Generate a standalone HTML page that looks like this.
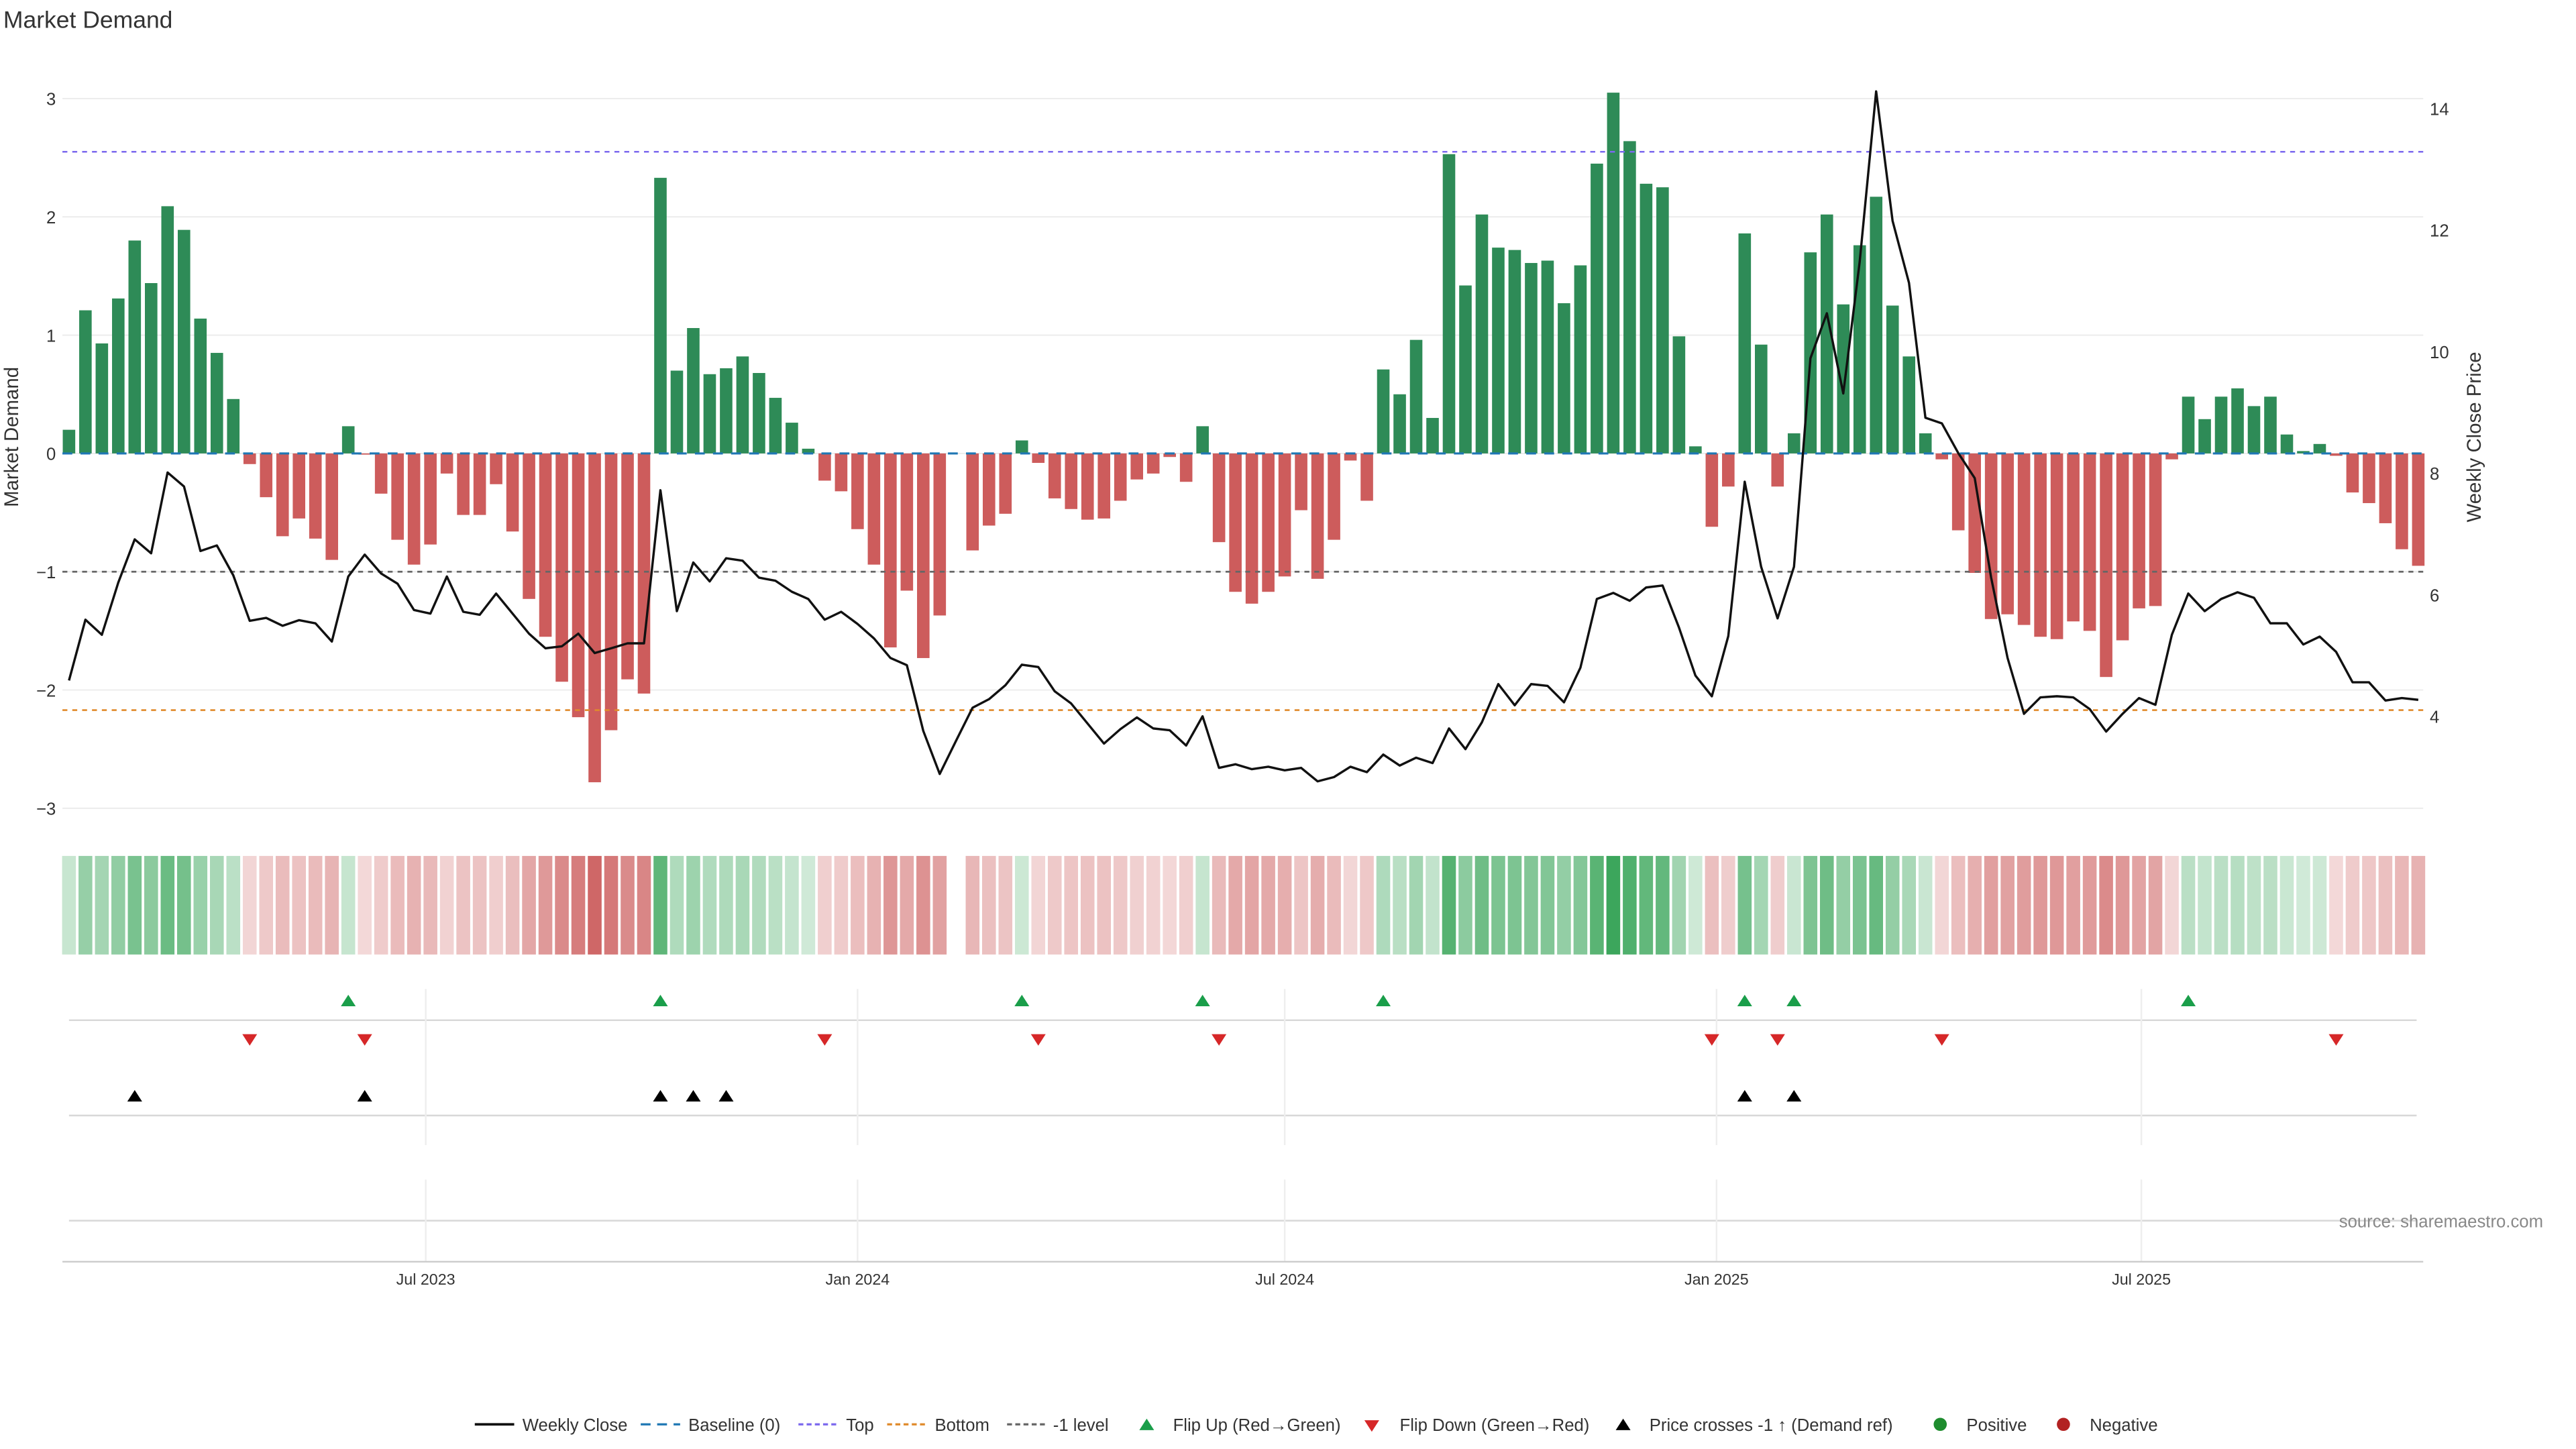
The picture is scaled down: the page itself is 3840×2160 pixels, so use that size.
<!DOCTYPE html>
<html><head><meta charset="utf-8"><style>
html,body{margin:0;padding:0;background:#fff;}
svg{display:block;font-family:"Liberation Sans","DejaVu Sans",sans-serif;}
</style></head><body>
<svg id="chart" width="3840" height="2160" viewBox="0 0 1568 882" preserveAspectRatio="xMinYMin meet" xmlns="http://www.w3.org/2000/svg">
<text x="2" y="17" font-size="14.5" fill="#333">Market Demand</text>
<g id="grid"></g><g id="bars"></g><g id="levels"></g><g id="line"></g><g id="heat"></g><g id="events"></g><g id="axes"></g>
<text transform="translate(11,266) rotate(-90)" text-anchor="middle" font-size="12" fill="#333">Market Demand</text>
<text transform="translate(1510,266) rotate(-90)" text-anchor="middle" font-size="12" fill="#333">Weekly Close Price</text>
<text x="1548" y="747" text-anchor="end" font-size="10.5" fill="#888">source: sharemaestro.com</text>
<g id="legend"></g>
</svg>
<script>
const demand = [0.20,1.21,0.93,1.31,1.80,1.44,2.09,1.89,1.14,0.85,0.46,-0.09,-0.37,-0.70,-0.55,-0.72,-0.90,0.23,-0.01,-0.34,
-0.73,-0.94,-0.77,-0.17,-0.52,-0.52,-0.26,-0.66,-1.23,-1.55,-1.93,-2.23,-2.78,-2.34,-1.91,-2.03,2.33,0.70,1.06,0.67,
0.72,0.82,0.68,0.47,0.26,0.04,-0.23,-0.32,-0.64,-0.94,-1.64,-1.16,-1.73,-1.37,null,-0.82,-0.61,-0.51,0.11,-0.08,
-0.38,-0.47,-0.56,-0.55,-0.40,-0.22,-0.17,-0.03,-0.24,0.23,-0.75,-1.17,-1.27,-1.17,-1.04,-0.48,-1.06,-0.73,-0.06,-0.40,
0.71,0.50,0.96,0.30,2.53,1.42,2.02,1.74,1.72,1.61,1.63,1.27,1.59,2.45,3.05,2.64,2.28,2.25,0.99,0.06,
-0.62,-0.28,1.86,0.92,-0.28,0.17,1.70,2.02,1.26,1.76,2.17,1.25,0.82,0.17,-0.05,-0.65,-1.01,-1.40,-1.36,-1.45,
-1.55,-1.57,-1.42,-1.50,-1.89,-1.58,-1.31,-1.29,-0.05,0.48,0.29,0.48,0.55,0.40,0.48,0.16,0.02,0.08,-0.02,-0.33,
-0.42,-0.59,-0.81,-0.95];
const closePrice = [4.59,5.59,5.34,6.20,6.91,6.68,8.01,7.78,6.72,6.81,6.32,5.57,5.62,5.49,5.58,5.53,5.23,6.30,6.66,6.35,
6.18,5.75,5.69,6.30,5.72,5.67,6.02,5.69,5.36,5.12,5.15,5.36,5.04,5.12,5.20,5.20,7.72,5.73,6.53,6.22,
6.60,6.56,6.28,6.23,6.05,5.93,5.59,5.72,5.52,5.28,4.96,4.84,3.76,3.05,3.60,4.14,4.28,4.51,4.85,4.81,
4.41,4.21,3.88,3.55,3.79,3.98,3.80,3.77,3.52,4.00,3.15,3.21,3.13,3.17,3.11,3.15,2.93,3.00,3.17,3.08,
3.37,3.19,3.32,3.23,3.80,3.46,3.90,4.53,4.18,4.53,4.50,4.23,4.80,5.93,6.03,5.90,6.12,6.15,5.46,4.67,
4.33,5.32,7.86,6.46,5.61,6.46,9.89,10.63,9.31,11.48,14.28,12.15,11.13,8.91,8.82,8.33,7.92,6.28,4.96,4.04,
4.31,4.33,4.31,4.12,3.75,4.04,4.30,4.19,5.34,6.02,5.73,5.93,6.04,5.95,5.53,5.53,5.18,5.31,5.06,4.56,
4.56,4.26,4.30,4.27];
const leftTicks = [3,2,1,0,-1,-2,-3];
const rightTicks = [14,12,10,8,6,4];
const xTickLabels = ["Jul 2023","Jan 2024","Jul 2024","Jan 2025","Jul 2025"];
const xTickDates = ["2023-07-01","2024-01-01","2024-07-01","2025-01-01","2025-07-01"];
const startDate = "2023-01-30";
const topLevel = 2.55, bottomLevel = -2.17, negLevel = -1;

const NS="http://www.w3.org/2000/svg";
function mk(tag, attrs, parent, txt){const e=document.createElementNS(NS,tag);for(const k in attrs)e.setAttribute(k,attrs[k]);if(txt!==undefined)e.textContent=txt;parent.appendChild(e);return e;}
const X0=42, DX=10.0, XL=38, XR=1475;
const xIdx = i => X0 + i*DX;
const yL = v => 276 - v*72;
const yR = p => 66 + (14-p)*37;
const pFromY = y => 14 - (y-66)/37;
const dateIdx = d => (new Date(d) - new Date(startDate))/86400000/7;
const G=id=>document.getElementById(id);

leftTicks.forEach((t,k)=>{
  const l=mk('line',{x1:XL,x2:XR,y1:yL(t),y2:yL(t),stroke:'#ececec','stroke-width':0.8},G('grid'));
  
  
  const lab=mk('text',{x:34,y:yL(t)+4,'text-anchor':'end','font-size':10.5,fill:'#333'},G('axes'),t<0?'\u2212'+Math.abs(t):String(t));
  
  
});
rightTicks.forEach(t=>{
  const lab=mk('text',{x:1479,y:yR(t)+4,'font-size':10.5,fill:'#333'},G('axes'),String(t));
  
  
});
demand.forEach((v,i)=>{
  if(v===null) return;
  const y=Math.min(yL(v),yL(0)), h=Math.abs(yL(v)-yL(0));
  const r=mk('rect',{x:xIdx(i)-3.8,y:y,width:7.6,height:Math.max(h,0.3),fill:v>=0?'#2e8b57':'#cd5c5c'},G('bars'));
  
  
});
function level(v,color,dash,name,w){
  const l=mk('line',{x1:XL,x2:XR,y1:yL(v),y2:yL(v),stroke:color,'stroke-width':w||1,'stroke-dasharray':dash},G('levels'));
  
  
}
level(0,'#1f77b4','6 5','baseline-line',1.3);
level(topLevel,'#7b68ee','3 3','top-level-line');
level(bottomLevel,'#e08a2b','3 3','bottom-level-line',1.1);
level(negLevel,'#666','3 3','neg1-level-line',1.1);
const pts=closePrice.map((p,i)=>xIdx(i).toFixed(1)+','+yR(p).toFixed(1)).join(' ');
const pl=mk('polyline',{points:pts,fill:'none',stroke:'#111','stroke-width':1.4,'stroke-linejoin':'round'},G('line'));


demand.forEach((v,i)=>{
  if(v===null) return;
  const a=Math.min(1,0.22+0.7*Math.abs(v)/3);
  const c=v>=0?[46,160,80]:[200,80,80];
  const mix=c.map(ch=>Math.round(255-(255-ch)*a));
  const r=mk('rect',{x:xIdx(i)-4.2,y:521,width:8.4,height:60,fill:`rgb(${mix.join(',')})`},G('heat'));
  
  
});
[621,679,743].forEach(y=>{
  const l=mk('line',{x1:42,x2:1471,y1:y,y2:y,stroke:'#d8d8d8','stroke-width':1},G('events'));
  
  
});
xTickDates.forEach((d,k)=>{
  const x=xIdx(dateIdx(d));
  const l=mk('line',{x1:x,x2:x,y1:602,y2:697,stroke:'#eeeeee','stroke-width':1},G('events'));
  
  
  const l2=mk('line',{x1:x,x2:x,y1:718,y2:768,stroke:'#eeeeee','stroke-width':1},G('events'));
  
  
  const lab=mk('text',{x:x,y:782,'text-anchor':'middle','font-size':9.5,fill:'#333'},G('axes'),xTickLabels[k]);
  
  
});
const ax=mk('line',{x1:38,x2:1475,y1:768,y2:768,stroke:'#ccc','stroke-width':1},G('axes'));


function tri(x,y,up,color,name,parent){
  const p=up?`${x-4.5},${y+3.5} ${x+4.5},${y+3.5} ${x},${y-3.5}`:`${x-4.5},${y-3.5} ${x+4.5},${y-3.5} ${x},${y+3.5}`;
  const t=mk('polygon',{points:p,fill:color},parent);
  
  
}
const thr=pFromY(yL(negLevel));
let prev=null;
demand.forEach((v,i)=>{
  if(v===null) return;
  if(prev!==null){
    if(prev<0&&v>=0) tri(xIdx(i),609,true,'#1a9e4a','flip-up-marker',G('events'));
    if(prev>=0&&v<0) tri(xIdx(i),633,false,'#d62728','flip-down-marker',G('events'));
  }
  prev=v;
});
closePrice.forEach((p,i)=>{
  if(i>0&&closePrice[i-1]<thr&&p>=thr) tri(xIdx(i),667,true,'#000','price-cross-marker',G('events'));
});
const L=G('legend');
function ltext(x,s,name){const t=mk('text',{x:x,y:871,'font-size':10.5,fill:'#333'},L,s);}
function lline(x1,color,dash,name,w){const l=mk('line',{x1:x1,x2:x1+24,y1:867,y2:867,stroke:color,'stroke-width':w||1.3,'stroke-dasharray':dash||'none'},L);}
lline(289,'#111',null,'legend-weekly-close-swatch',1.5); ltext(318,'Weekly Close','legend-weekly-close');
lline(390,'#1f77b4','6 4','legend-baseline-swatch'); ltext(419,'Baseline (0)','legend-baseline');
lline(486,'#7b68ee','3 2','legend-top-swatch'); ltext(515,'Top','legend-top');
lline(540,'#e08a2b','3 2','legend-bottom-swatch'); ltext(569,'Bottom','legend-bottom');
lline(613,'#666','3 2','legend-neg1-swatch'); ltext(641,'-1 level','legend-neg1');
tri(698,867,true,'#1a9e4a','legend-flip-up-swatch',L); ltext(714,'Flip Up (Red\u2192Green)','legend-flip-up');
tri(835,868,false,'#d62728','legend-flip-down-swatch',L); ltext(852,'Flip Down (Green\u2192Red)','legend-flip-down');
tri(988,867,true,'#000','legend-price-cross-swatch',L); ltext(1004,'Price crosses -1 \u2191 (Demand ref)','legend-price-cross');
const c1=mk('circle',{cx:1181,cy:867,r:4,fill:'#1e8c2e'},L);  
ltext(1197,'Positive','legend-positive');
const c2=mk('circle',{cx:1256,cy:867,r:4,fill:'#b22222'},L);  
ltext(1272,'Negative','legend-negative');
</script>
</body></html>
